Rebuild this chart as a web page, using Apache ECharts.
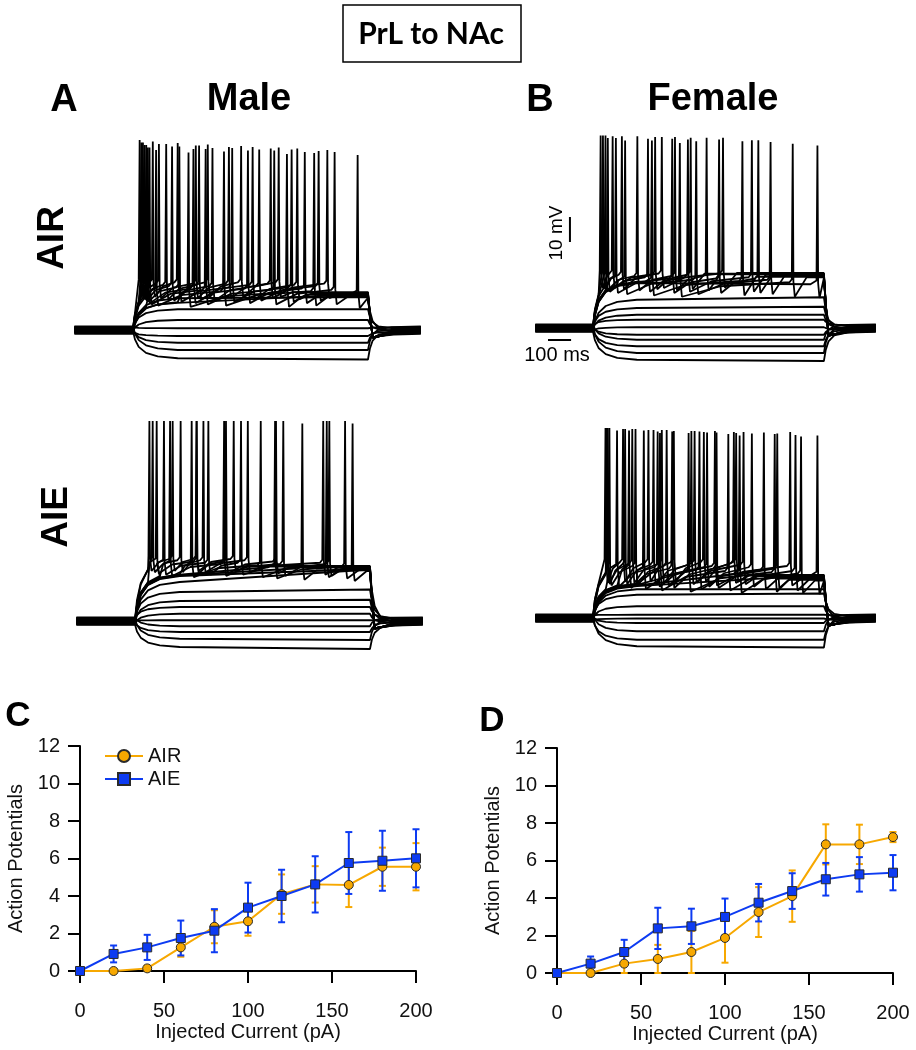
<!DOCTYPE html>
<html>
<head>
<meta charset="utf-8">
<script src="https://cdn.jsdelivr.net/npm/echarts@6/dist/echarts.min.js"></script>
<style>
  html, body { margin: 0; padding: 0; background: #fff; }
  #chart { width: 916px; height: 1050px; }
</style>
</head>
<body>
<div id="chart"></div>
<script>
// ---- summary data (C, D): action potentials vs injected current ----
const currents = [0, 20, 40, 60, 80, 100, 120, 140, 160, 180, 200];
const xTicks = [0, 50, 100, 150, 200];
const yTicks = [0, 2, 4, 6, 8, 10, 12];

const maleAirMean = [0, 0, 0.14, 1.26, 2.36, 2.65, 4.1, 4.62, 4.59, 5.56, 5.56];
const maleAirSem = [0, 0, 0.14, 0.5, 0.88, 0.77, 1.05, 0.97, 1.18, 1.02, 1.26];
const maleAieMean = [0, 0.91, 1.26, 1.76, 2.15, 3.38, 4.0, 4.62, 5.76, 5.88, 6.01];
const maleAieSem = [0, 0.45, 0.67, 0.93, 1.15, 1.33, 1.4, 1.5, 1.65, 1.6, 1.55];

const femaleAirMean = [0, 0, 0.5, 0.75, 1.12, 1.87, 3.25, 4.1, 6.86, 6.86, 7.25];
const femaleAirSem = [0, 0, 0.5, 0.75, 1.12, 1.32, 1.33, 1.37, 1.07, 1.05, 0.27];
const femaleAieMean = [0, 0.5, 1.12, 2.38, 2.49, 2.99, 3.75, 4.37, 5.0, 5.26, 5.35];
const femaleAieSem = [0, 0.38, 0.65, 1.1, 0.94, 0.98, 1.0, 0.95, 0.87, 0.92, 0.94];

// ---- example traces (A, B): mV relative to rest, time in ms, step 0..1000 ms ----
// steady levels of the subthreshold sweeps, and drift over the step
const maleAirLevels = [12.7, 8.3, 4.0, 0.7, -2.4, -5.1, -8.0, -11.3];
const maleAirDrift = [0.5, 0, 0, 0, 0, 0, 0, -0.5];
// spike times of the firing sweeps
const maleAirTrains = [
  [956], [236, 655], [98, 387, 771], [70, 309, 601, 858], [63, 257, 489, 731],
  [56, 197, 422, 675], [49, 166, 338, 537, 790], [42, 141, 281, 509, 699],
  [35, 110, 267, 408, 586, 827], [28, 84, 190, 318, 460, 620]
];
const maleAirPeaks = [70, 71, 72, 73, 73, 74, 74, 75, 75, 76];
const maleAirShape = { thr: 18, ahp: 11, plat: 14, under: -3, fade: 0.6, step: 0.5 };

const femaleAirLevels = [11.3, 8.0, 5.3, 3.3, 0.3, -2.7, -4.7, -7.3, -10, -12.7];
const femaleAirDrift = [1, 0.5, 0, 0, 0, 0, 0, 0, 0, -0.5];
const femaleAirTrains = [
  [972], [376, 865], [255, 647], [139, 447, 769], [99, 343, 546, 716],
  [64, 238, 411, 688], [54, 192, 355, 492], [43, 125, 269, 423], [33, 85, 298, 563]
];
const femaleAirPeaks = [73, 74, 75, 75, 76, 76, 77, 77, 77];
const femaleAirShape = { thr: 21, ahp: 14, plat: 21, under: -3, fade: 0.3, step: 0.5 };

const maleAieLevels = [15.6, 11.6, 8.0, 5.6, 2.9, 0.3, -2.1, -4.4, -7.1, -10.4];
const maleAieDrift = [5, 1, 0.5, 0, 0, 0, 0, 0, -0.5, -0.8];
const maleAieTrains = [
  [926], [712], [596, 894], [241, 535, 816], [149, 379, 631, 827],
  [123, 312, 451, 801], [92, 262, 387, 600], [75, 194, 291, 480], [61, 160, 262, 420]
];
const maleAiePeaks = [79, 79, 80, 80, 80, 80, 80, 80, 80];
const maleAieShape = { thr: 24, ahp: 18, plat: 21, under: -3, fade: 0, step: 0.5 };

const femaleAieLevels = [11.5, 9.3, 4.7, 1.3, -0.2, -2.0, -5.3, -8.7, -11.3];
const femaleAieDrift = [0, 0.5, 0, 0, 0, 0, 0, 0, -0.5];
const femaleAieTrains = [
  [972], [635, 901], [414, 787], [290, 586, 877], [220, 461, 740],
  [156, 343, 535, 798], [104, 280, 494, 688], [71, 184, 319, 528, 854],
  [64, 139, 262, 426, 652], [60, 170, 298, 440, 610], [54, 130, 240, 350, 480, 620]
];
const femaleAiePeaks = [73, 73, 74, 74, 75, 75, 75, 76, 76, 76, 76];
const femaleAieShape = { thr: 21, ahp: 12, plat: 16, under: -3, fade: 0.4, step: 0.5 };

// spread of the resting level between sweeps (mV)
const restSpread = [-1.2, 0.5, -0.3, 1.1, -0.8, 0.2, 1.4, -0.5, 0.8, -1.5,
  0.3, -0.7, 1.2, -1.0, 0.0, 0.6, -0.4, 0.9, -1.3, 0.4];

// charging / discharging profile of the membrane (ms, fraction)
const riseShape = [[0, 0], [8, 0.3], [24, 0.58], [55, 0.8], [105, 0.93], [190, 1]];
const fallShape = [[0, 1], [8, 0.62], [20, 0.33], [45, 0.12], [100, 0.03], [225, 0]];

// scale bars (10 mV, 100 ms)
const scaleMv = 10;
const scaleMs = 100;

const ORANGE = '#F7A800';
const BLUE = '#0D3BF2';
const FONT = 'Liberation Sans, Arial, sans-serif';

function subTrace(level, drift, rest) {
  const pts = [[-250, rest]];
  riseShape.forEach(([t, f]) => pts.push([t, rest + (level - rest) * f]));
  const end = level + drift;
  pts.push([1000, end]);
  fallShape.forEach(([t, f]) => pts.push([1000 + t, rest + (end - rest) * f]));
  return pts;
}

function spikeTrace(train, peak, p, rest, shift) {
  const thr = p.thr + shift;
  const ahp = p.ahp + shift;
  const plat = p.plat + shift * 0.5;
  const pts = [[-250, rest]];
  const first = train[0];
  const late = first > 80;
  const target = late ? plat - 2 : thr;
  riseShape.forEach(([t, f]) => {
    if (t < first - 4) pts.push([t, rest + (target - rest) * f]);
  });
  if (late) pts.push([first - 30, thr - 1.5]);
  pts.push([first - 4, thr]);
  train.forEach((t, i) => {
    pts.push([t, peak - p.fade * i], [t + 3, thr - 1], [t + 9, ahp]);
    const next = train[i + 1];
    if (next !== undefined) {
      const gap = next - t - 9;
      pts.push([t + 9 + gap * 0.35, ahp + (thr - ahp) * 0.6],
        [next - 14, thr - 1.2], [next - 4, thr]);
    } else if (t + 9 < 1000) {
      pts.push([Math.min(t + 60, 1000), plat], [1000, plat]);
    }
  });
  pts.push([1008, plat * 0.45], [1020, p.under], [1050, p.under * 0.8],
    [1110, p.under * 0.35 + rest * 0.5], [1225, rest]);
  return pts;
}

function panelSeries(grid, levels, drift, trains, peaks, shape) {
  const out = [];
  let k = 0;
  const line = (data) => ({
    type: 'line', xAxisIndex: grid, yAxisIndex: grid, data,
    symbol: 'none', silent: true, animation: false,
    lineStyle: { color: '#000', width: 1.8 }
  });
  levels.forEach((lv, i) => {
    out.push(line(subTrace(lv, drift[i], restSpread[k++ % restSpread.length])));
  });
  const mid = (trains.length - 1) / 2;
  trains.forEach((tr, i) => {
    out.push(line(spikeTrace(tr, peaks[i], shape, restSpread[k++ % restSpread.length],
      shape.step * (i - mid))));
  });
  return out;
}

function errorSeries(name, means, sems, color, axis) {
  return {
    type: 'custom', name: name, xAxisIndex: axis, yAxisIndex: axis,
    silent: true, animation: false, clip: false, z: 2,
    data: currents.map((c, i) => [c, means[i] - sems[i], means[i] + sems[i]]),
    encode: { x: 0, y: [1, 2] },
    renderItem(params, api) {
      const x = api.value(0);
      if (api.value(2) - api.value(1) <= 0) return null;
      const lo = api.coord([x, api.value(1)]);
      const hi = api.coord([x, api.value(2)]);
      const w = 3.5;
      const style = { stroke: color, lineWidth: 2 };
      return {
        type: 'group', children: [
          { type: 'line', shape: { x1: lo[0], y1: lo[1], x2: hi[0], y2: hi[1] }, style },
          { type: 'line', shape: { x1: lo[0] - w, y1: lo[1], x2: lo[0] + w, y2: lo[1] }, style },
          { type: 'line', shape: { x1: hi[0] - w, y1: hi[1], x2: hi[0] + w, y2: hi[1] }, style }
        ]
      };
    }
  };
}

function meanSeries(name, means, color, symbol, axis) {
  return {
    type: 'line', name: name, xAxisIndex: axis, yAxisIndex: axis,
    data: currents.map((c, i) => [c, means[i]]),
    symbol: symbol, symbolSize: 9, clip: false, animation: false, z: 3,
    lineStyle: { color: color, width: 2 },
    itemStyle: { color: color, borderColor: '#2a2a2a', borderWidth: 1 }
  };
}

// trace panel layout (px); time axis -260..1230 ms, voltage -16..84 mV
const traceGrids = [
  { left: 72, top: 120, width: 350, height: 250 },
  { left: 533, top: 118, width: 344, height: 250 },
  { left: 74, top: 411, width: 350, height: 250 },
  { left: 533, top: 408, width: 344, height: 250 }
];
const plotGrids = [
  { left: 80, top: 746, width: 336, height: 225 },
  { left: 557, top: 748, width: 336, height: 225 }
];

const xAxes = traceGrids.map((g, i) => ({
  type: 'value', gridIndex: i, min: -260, max: 1230, show: false
}));
const yAxes = traceGrids.map((g, i) => ({
  type: 'value', gridIndex: i, min: -16, max: 84, show: false
}));

const axisCommon = {
  axisLine: { show: true, lineStyle: { color: '#000', width: 2 } },
  axisTick: { show: true, length: 12, lineStyle: { color: '#000', width: 2 } },
  splitLine: { show: false },
  nameTextStyle: { fontFamily: FONT, fontSize: 20, color: '#111' }
};

plotGrids.forEach((g, j) => {
  const gi = traceGrids.length + j;
  xAxes.push(Object.assign({}, axisCommon, {
    type: 'value', gridIndex: gi, min: xTicks[0], max: xTicks[xTicks.length - 1],
    interval: xTicks[1] - xTicks[0], offset: 7,
    name: 'Injected Current (pA)', nameLocation: 'middle', nameGap: 44,
    axisLabel: { fontFamily: FONT, fontSize: 20, color: '#111', margin: 23 }
  }));
  yAxes.push(Object.assign({}, axisCommon, {
    type: 'value', gridIndex: gi, min: yTicks[0], max: yTicks[yTicks.length - 1],
    interval: yTicks[1] - yTicks[0],
    name: 'Action Potentials', nameLocation: 'middle', nameGap: 54,
    axisLabel: { fontFamily: FONT, fontSize: 20, color: '#111', margin: 20 }
  }));
});

const series = [].concat(
  panelSeries(0, maleAirLevels, maleAirDrift, maleAirTrains, maleAirPeaks, maleAirShape),
  panelSeries(1, femaleAirLevels, femaleAirDrift, femaleAirTrains, femaleAirPeaks, femaleAirShape),
  panelSeries(2, maleAieLevels, maleAieDrift, maleAieTrains, maleAiePeaks, maleAieShape),
  panelSeries(3, femaleAieLevels, femaleAieDrift, femaleAieTrains, femaleAiePeaks, femaleAieShape),
  [
    // scale bars drawn in panel B (AIR) coordinates
    {
      type: 'line', xAxisIndex: 1, yAxisIndex: 1, symbol: 'none', silent: true,
      data: [[-100, 34.4], [-100, 34.4 + scaleMv]],
      lineStyle: { color: '#000', width: 2 }
    },
    {
      type: 'line', xAxisIndex: 1, yAxisIndex: 1, symbol: 'none', silent: true,
      data: [[-195, -4.8], [-195 + scaleMs, -4.8]],
      lineStyle: { color: '#000', width: 2 }
    },
    errorSeries('AIR sem', maleAirMean, maleAirSem, ORANGE, 4),
    meanSeries('AIR', maleAirMean, ORANGE, 'circle', 4),
    errorSeries('AIE sem', maleAieMean, maleAieSem, BLUE, 4),
    meanSeries('AIE', maleAieMean, BLUE, 'rect', 4),
    errorSeries('AIR sem', femaleAirMean, femaleAirSem, ORANGE, 5),
    meanSeries('AIR', femaleAirMean, ORANGE, 'circle', 5),
    errorSeries('AIE sem', femaleAieMean, femaleAieSem, BLUE, 5),
    meanSeries('AIE', femaleAieMean, BLUE, 'rect', 5)
  ]
);

function label(text, x, y, font, rotate) {
  return {
    type: 'text', x: x, y: y, rotation: rotate ? Math.PI / 2 : 0, silent: true,
    style: { text: text, font: font, fill: '#000', align: 'center', verticalAlign: 'middle' }
  };
}

const bigBold = 'bold 38px ' + FONT;
const option = {
  backgroundColor: '#fff',
  animation: false,
  grid: traceGrids.concat(plotGrids),
  xAxis: xAxes,
  yAxis: yAxes,
  legend: {
    data: ['AIR', 'AIE'], orient: 'vertical', left: 99, top: 741,
    itemWidth: 38, itemHeight: 15, itemGap: 3, selectedMode: false,
    textStyle: { fontFamily: FONT, fontSize: 20, color: '#111' }
  },
  series: series,
  graphic: [
    { type: 'rect', shape: { x: 343, y: 5, width: 178, height: 57 },
      style: { fill: 'none', stroke: '#000', lineWidth: 1.5 }, silent: true },
    label('PrL to NAc', 431, 34, 'bold 30px Lato, ' + FONT),
    label('A', 64, 101, bigBold),
    label('Male', 249, 100, bigBold),
    label('B', 540, 101, bigBold),
    label('Female', 713, 100, bigBold),
    label('AIR', 53, 238, 'bold 37px ' + FONT, true),
    label('AIE', 57, 517, 'bold 37px ' + FONT, true),
    label('C', 18, 716, 'bold 35px ' + FONT),
    label('D', 492, 721, 'bold 35px ' + FONT),
    label('10 mV', 557, 233, '19px ' + FONT, true),
    label('100 ms', 557, 355, '20px ' + FONT)
  ]
};

const chart = echarts.init(document.getElementById('chart'), null, { renderer: 'canvas' });
chart.setOption(option);
</script>
</body>
</html>
